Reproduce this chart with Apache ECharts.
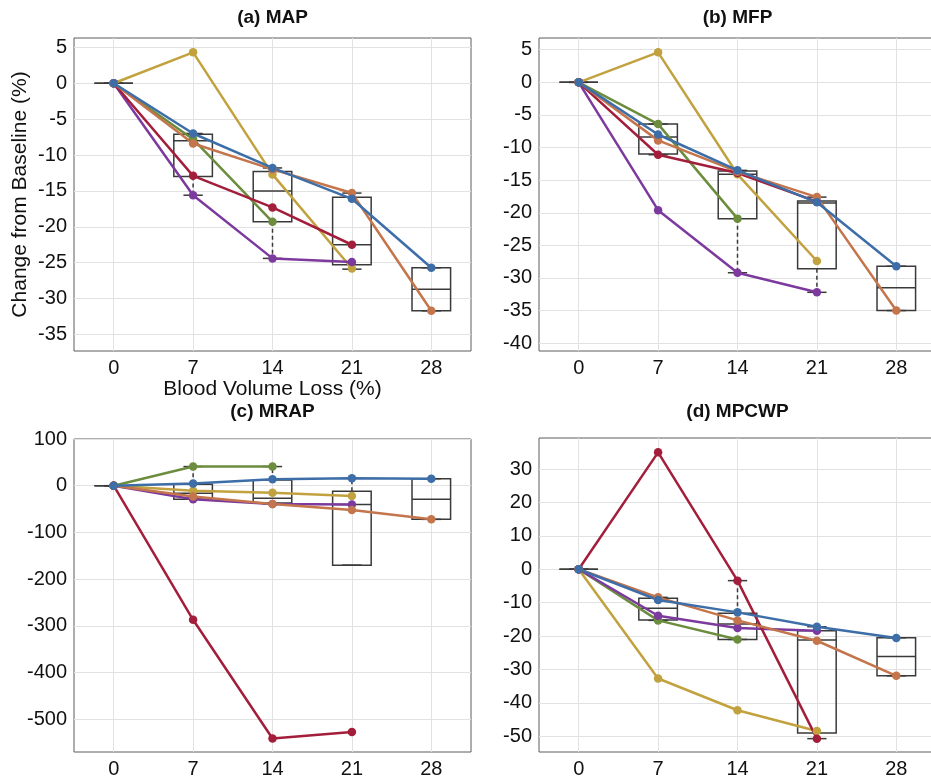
<!DOCTYPE html>
<html>
<head>
<meta charset="utf-8">
<script src="https://cdn.jsdelivr.net/npm/echarts@6/dist/echarts.min.js"></script>
<style>
html,body{margin:0;padding:0;overflow:hidden;background:#fff;}
#c{width:940px;height:780px;}
</style>
</head>
<body>
<div id="c"></div>
<script>
// ---------- data ----------
const xCats = [0, 7, 14, 21, 28];
const seriesNames = ['gold', 'green', 'purple', 'red', 'orange', 'blue'];
const colors = {
  blue: '#3D6EA8', orange: '#C4754B', gold: '#C2A23E',
  green: '#6C8C3E', red: '#A31E3B', purple: '#7D3A9E'
};

// (a) MAP
const mapBlue   = [0, -7.0, -11.8, -16.1, -25.7];
const mapOrange = [0, -8.4, -12.0, -15.3, -31.7];
const mapGold   = [0, 4.3, -12.7, -25.8, null];
const mapGreen  = [0, -7.8, -19.3, null, null];
const mapRed    = [0, -12.9, -17.3, -22.5, null];
const mapPurple = [0, -15.6, -24.4, -24.9, null];
// box stats per x: [low, q1, median, q3, high]
const mapBox = [[0,0,0,0,0], [-15.6,-13.0,-8.0,-7.1,-7.0], [-24.4,-19.3,-15.0,-12.3,-11.8], [-25.9,-25.3,-22.5,-15.9,-15.3], [-31.7,-31.7,-28.7,-25.7,-25.7]];

// (b) MFP
const mfpBlue   = [0, -8.0, -13.5, -18.4, -28.2];
const mfpOrange = [0, -8.9, -13.7, -17.6, -35.0];
const mfpGold   = [0, 4.6, -14.1, -27.4, null];
const mfpGreen  = [0, -6.4, -20.9, null, null];
const mfpRed    = [0, -11.1, -13.9, -18.3, null];
const mfpPurple = [0, -19.6, -29.2, -32.2, null];
const mfpBox = [[0,0,0,0,0], [-11.1,-11.0,-8.4,-6.4,-6.4], [-29.2,-20.9,-14.1,-13.6,-13.5], [-32.2,-28.6,-18.5,-18.2,-17.6], [-35.0,-35.0,-31.5,-28.2,-28.2]];

// (c) MRAP
const mrapBlue   = [0, 5, 14, 16, 15];
const mrapOrange = [0, -23, -39, -52, -72];
const mrapGold   = [0, -11, -15, -22, null];
const mrapGreen  = [0, 41, 41, null, null];
const mrapRed    = [0, -287, -541, -527, null];
const mrapPurple = [0, -29, -39, -40, null];
const mrapBox = [[0,0,0,0,0], [-29,-29,-16,3,41], [-39,-37,-27,12,41], [-170,-170,-40,-12,16], [-72,-72,-29,15,15]];

// (d) MPCWP
const mpcBlue   = [0, -9.2, -12.9, -17.2, -20.6];
const mpcOrange = [0, -8.4, -15.3, -21.4, -31.9];
const mpcGold   = [0, -32.7, -42.2, -48.4, null];
const mpcGreen  = [0, -15.3, -21.0, null, null];
const mpcRed    = [0, 35.0, -3.4, -50.7, null];
const mpcPurple = [0, -13.9, -17.6, -18.4, null];
const mpcBox = [[0,0,0,0,0], [-15.3,-15.2,-11.7,-8.7,-8.4], [-21.0,-21.0,-16.4,-13.2,-3.4], [-50.7,-49.0,-21.2,-18.4,-17.2], [-31.9,-31.9,-26.1,-20.5,-20.5]];

const titles = ['(a) MAP', '(b) MFP', '(c) MRAP', '(d) MPCWP'];
const xLabel = 'Blood Volume Loss (%)';
const yLabel = 'Change from Baseline (%)';

const panels = [
  {lines: {gold: mapGold, green: mapGreen, purple: mapPurple, red: mapRed, orange: mapOrange, blue: mapBlue}, box: mapBox},
  {lines: {gold: mfpGold, green: mfpGreen, purple: mfpPurple, red: mfpRed, orange: mfpOrange, blue: mfpBlue}, box: mfpBox},
  {lines: {gold: mrapGold, green: mrapGreen, purple: mrapPurple, red: mrapRed, orange: mrapOrange, blue: mrapBlue}, box: mrapBox},
  {lines: {gold: mpcGold, green: mpcGreen, purple: mpcPurple, red: mpcRed, orange: mpcOrange, blue: mpcBlue}, box: mpcBox}
];

// ---------- layout ----------
const FONT = "'Liberation Sans', Arial, Helvetica, sans-serif";
const grids = [
  {left: 74, top: 38, width: 397, height: 313},
  {left: 539, top: 38, width: 397, height: 313},
  {left: 74, top: 439, width: 397, height: 313},
  {left: 539, top: 438, width: 397, height: 314}
];
const yRanges = [
  {min: -37.3, max: 6.3, step: 0.1, major: 5},
  {min: -41.2, max: 6.8, step: 0.1, major: 5},
  {min: -570, max: 100, step: 10, major: 100},
  {min: -54.7, max: 39.3, step: 0.1, major: 10}
];
const xRange = {min: -3.5, max: 31.5, step: 3.5, major: 7};

function isMajor(v, major) {
  const r = v / major;
  return Math.abs(r - Math.round(r)) < 1e-6;
}
function splitColors(min, step, major) {
  const n = Math.round(major / step);
  const k = ((Math.round(-min / step) % n) + n) % n;
  const arr = [];
  for (let i = 0; i < n; i++) arr.push(i === k ? '#e2e2e2' : 'rgba(0,0,0,0)');
  return arr;
}
function axis(r, extra) {
  return Object.assign({
    type: 'value', min: r.min, max: r.max, interval: r.step,
    axisLine: {show: false}, axisTick: {show: false},
    splitLine: {show: true, lineStyle: {color: splitColors(r.min, r.step, r.major), width: 1}},
    axisLabel: {
      color: '#111', fontSize: 20, fontFamily: FONT, margin: 7,
      formatter: v => isMajor(v, r.major) ? String(Math.round(v)) : ''
    }
  }, extra || {});
}

const nameStyle = {fontSize: 21, color: '#111', fontFamily: FONT};
const option = {
  animation: false,
  backgroundColor: '#fff',
  grid: grids.map(g => Object.assign({show: true, borderColor: '#5c5c5c', borderWidth: 1, backgroundColor: 'rgba(0,0,0,0)'}, g)),
  xAxis: grids.map((g, i) => axis(xRange, Object.assign({gridIndex: i},
    i === 0 ? {name: xLabel, nameLocation: 'middle', nameGap: 27, nameTextStyle: nameStyle} : {}))),
  yAxis: grids.map((g, i) => axis(yRanges[i], Object.assign({gridIndex: i},
    i === 0 ? {name: yLabel, nameLocation: 'middle', nameGap: 43, nameTextStyle: nameStyle} : {}))),
  graphic: titles.map((t, i) => ({
    type: 'text', x: grids[i].left + grids[i].width / 2, y: i < 2 ? 18 : 412,
    style: {text: t, textAlign: 'center', textVerticalAlign: 'middle', font: 'bold 19px ' + FONT, fill: '#111'}
  })),
  series: []
};

panels.forEach((p, pi) => {
  // boxes
  option.series.push({
    type: 'custom', xAxisIndex: pi, yAxisIndex: pi, z: 1, clip: true,
    data: p.box.map((b, i) => [xCats[i]].concat(b)),
    renderItem: (params, api) => {
      const x = api.value(0);
      const lo = api.value(1), q1 = api.value(2), md = api.value(3), q3 = api.value(4), hi = api.value(5);
      const bw = 1.7, cw = 0.85;
      const pL = api.coord([x - bw, q3]), pR = api.coord([x + bw, q1]);
      const pMedL = api.coord([x - bw, md]), pMedR = api.coord([x + bw, md]);
      const st = {stroke: '#3a3a3a', lineWidth: 1.5, fill: null};
      const els = [
        {type: 'rect', shape: {x: pL[0], y: pL[1], width: pR[0] - pL[0], height: pR[1] - pL[1]}, style: Object.assign({}, st)},
        {type: 'line', shape: {x1: pMedL[0], y1: pMedL[1], x2: pMedR[0], y2: pMedR[1]}, style: Object.assign({}, st)}
      ];
      const whisk = (from, to) => {
        const a = api.coord([x, from]), c = api.coord([x, to]);
        const cl = api.coord([x - cw, to]), cr = api.coord([x + cw, to]);
        if (Math.abs(to - from) > 1e-9) {
          els.push({type: 'line', shape: {x1: a[0], y1: a[1], x2: c[0], y2: c[1]}, style: Object.assign({}, st, {lineDash: [4, 3]})});
        }
        els.push({type: 'line', shape: {x1: cl[0], y1: cl[1], x2: cr[0], y2: cr[1]}, style: Object.assign({}, st)});
      };
      whisk(q3, hi);
      whisk(q1, lo);
      return {type: 'group', children: els};
    }
  });
  // lines
  seriesNames.forEach(name => {
    option.series.push({
      type: 'line', name: name, xAxisIndex: pi, yAxisIndex: pi, z: 3,
      data: p.lines[name].map((v, i) => v === null ? [xCats[i], null] : [xCats[i], v]),
      connectNulls: false,
      symbol: 'circle', symbolSize: 8.5,
      lineStyle: {color: colors[name], width: 2.5},
      itemStyle: {color: colors[name]},
      emphasis: {disabled: true}
    });
  });
});

const chart = echarts.init(document.getElementById('c'), null, {renderer: 'canvas'});
chart.setOption(option);
</script>
</body>
</html>
